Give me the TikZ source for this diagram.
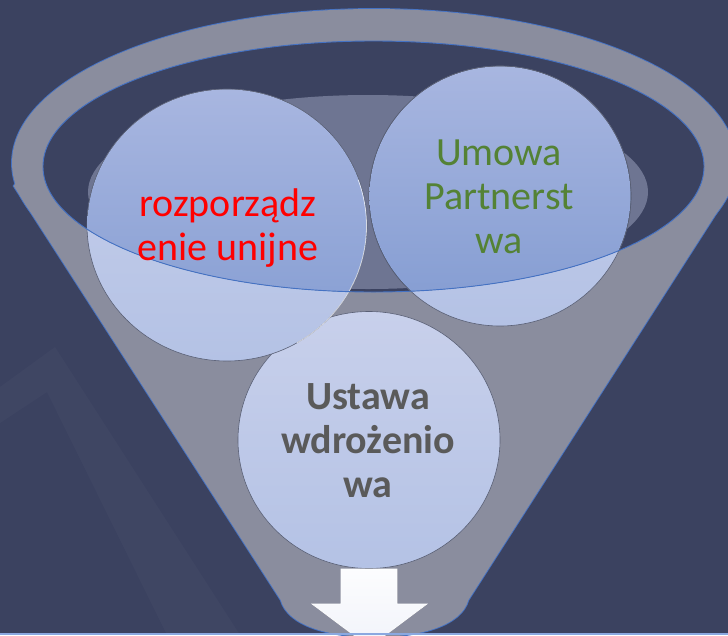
\documentclass[tikz,border=0pt]{standalone}
\usepackage{fontspec}
\setmainfont{Carlito}
\usetikzlibrary{shapes.geometric}
\definecolor{bgnavy}{HTML}{3B4260}
\definecolor{funnelgray}{HTML}{8A8D9E}
\definecolor{liquid}{HTML}{6E7592}
\definecolor{rimblue}{HTML}{4472C4}
\definecolor{ballhi}{HTML}{C8D0EB}
\definecolor{balllo}{HTML}{B4C2E5}
\definecolor{ballinhi}{HTML}{A8B6E0}
\definecolor{ballinlo}{HTML}{829BD1}
\definecolor{ballline}{HTML}{5A6075}
\definecolor{txtgreen}{HTML}{548235}
\definecolor{txtgray}{HTML}{5A5A5A}
\definecolor{bottomline}{HTML}{8AA8E0}
\tikzset{
  ball/.style={ellipse, draw=ballline, line width=0.6pt, top color=ballhi, bottom color=balllo, inner sep=0pt},
  balltext/.style={align=center, font=\fontsize{40}{44}\selectfont},
  funnelcone/.style={},
}
\begin{document}
\begin{tikzpicture}[x=1pt,y=-1pt]
\useasboundingbox (0,0) rectangle (728,635);
\fill[bgnavy] (0,0) rectangle (728,635);
% faint background band
\fill[white, opacity=0.022] (0,387) -- (55,347) -- (240,635) -- (167,635) -- (47,392) -- (0,423) -- cycle;
% funnel outline (outer half of stroke remains visible)
\def\cone{(13.7,186) -- (40,150) -- (708,150) -- (733.8,186) -- (468.4,600) .. controls (461,626) and (420,637) .. (374.5,637) .. controls (329,637) and (288,626) .. (280.7,600) -- cycle}
\draw[rimblue, line width=1.8pt] (374,163) ellipse [x radius=362, y radius=154];
\draw[rimblue, line width=1.8pt] \cone;
% funnel body
\fill[funnelgray] (374,163) ellipse [x radius=362, y radius=154];
\fill[funnelgray] \cone;
% inner opening
\fill[bgnavy] (373.5,166.5) ellipse [x radius=330.5, y radius=125.5];
\begin{scope}
  \clip (373.5,166.5) ellipse [x radius=330.5, y radius=125.5];
  \fill[liquid] (368,192) ellipse [x radius=280, y radius=97];
\end{scope}
% balls
\node[ball, minimum width=262pt, minimum height=257pt] (c3) at (369,440) {};
\node[ball, minimum width=280pt, minimum height=272pt] (c1) at (227,225) {};
\node[ball, minimum width=262pt, minimum height=260pt] (c2) at (500,196) {};
% darker part of the balls seen through the opening
\begin{scope}
  \clip (373.5,166.5) ellipse [x radius=330.5, y radius=125.5];
  \fill[top color=ballinhi, bottom color=ballinlo] (227,225) ellipse [x radius=139.6, y radius=135.6];
  \draw[ballline, line width=0.6pt] (500,196) ellipse [x radius=131, y radius=130];
  \fill[top color=ballinhi, bottom color=ballinlo] (500,196) ellipse [x radius=130.6, y radius=129.6];
\end{scope}
\draw[white, line width=0.8pt, opacity=0.7] (227,225) ++(60:140 and 136) arc [start angle=60, end angle=-20, x radius=139, y radius=135];
\draw[rimblue, line width=0.9pt] (373.5,166.5) ellipse [x radius=330.5, y radius=125.5];
% texts
\node[balltext, text=red] (t1) at (228,228) {rozporządz\\enie unijne};
\node[balltext, text=txtgreen] (t2) at (499,197) {Umowa\\Partnerst\\wa};
\node[balltext, text=txtgray, font=\fontsize{40}{44}\selectfont\bfseries] (t3) at (368,441) {Ustawa\\wdrożenio\\wa};
% arrow
\fill[top color=white!95!ballhi, bottom color=white!75!ballhi, draw=white, line width=0.6pt]
  (341,569) -- (397,569) -- (397,604) -- (427,604) -- (369.5,647) -- (312,604) -- (341,604) -- cycle;
% bottom edge line
\draw[bottomline, line width=2pt] (0,634) -- (728,634);
\end{tikzpicture}
\end{document}
